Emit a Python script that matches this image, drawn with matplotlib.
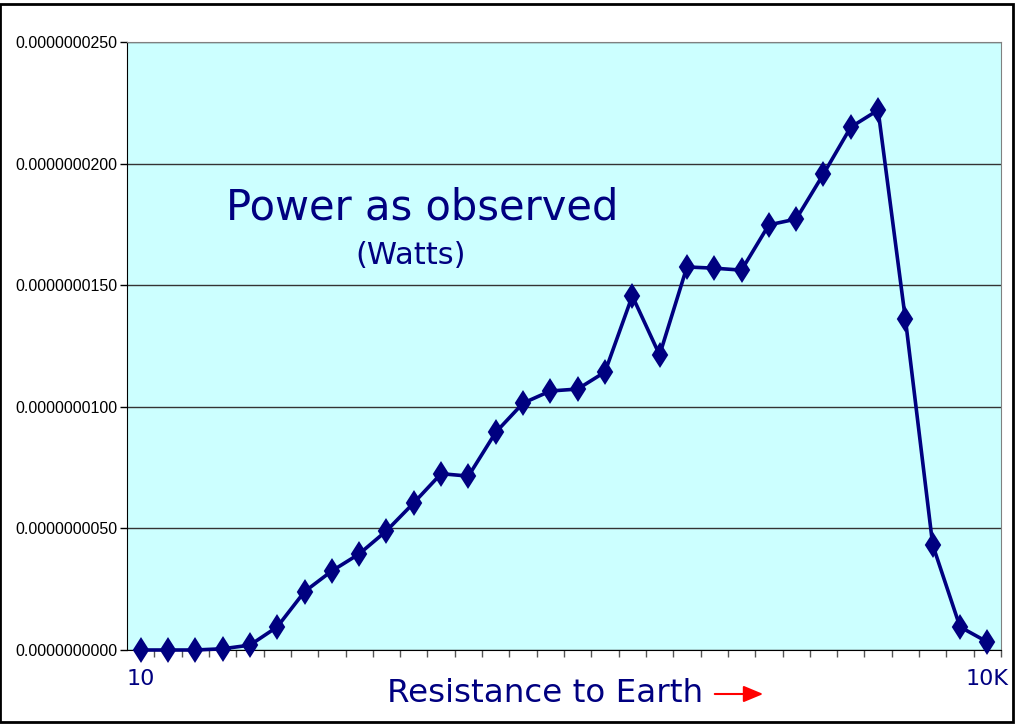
import matplotlib
matplotlib.use("Agg")
import matplotlib.pyplot as plt
from matplotlib.patches import Rectangle, FancyArrowPatch
from matplotlib.ticker import FixedLocator, FuncFormatter

# Data (Watts), 32 resistance steps from 10 to 10K
power_nW = [0.0, 0.0, 0.0, 0.05, 0.2, 0.95, 2.4, 3.25, 3.95, 4.9, 6.05, 7.25,
            7.15, 8.95, 10.15, 10.65, 10.73, 11.43, 14.56, 12.13, 15.75, 15.7,
            15.62, 17.48, 17.72, 19.57, 21.5, 22.2, 13.6, 4.32, 0.95, 0.33]
power = [v * 1e-9 for v in power_nW]
x_labels = ["10"] + [""] * 30 + ["10K"]
y_ticks = [0, 5e-9, 10e-9, 15e-9, 20e-9, 25e-9]

navy = "#000080"

fig = plt.figure(figsize=(10.24, 7.27), dpi=100)
ax = fig.add_axes([127 / 1024, 1 - 650 / 727, (1001 - 127) / 1024, (650 - 42) / 727])
ax.set_facecolor("#CCFFFF")

n = len(power)
xs = list(range(n))
ax.plot(xs, power, color=navy, lw=2.6, marker="d", markersize=11.5,
        markeredgewidth=1.5, markerfacecolor=navy, markeredgecolor=navy,
        zorder=3, clip_on=False)

ax.set_xlim(-0.5, n - 0.5)
ax.set_ylim(0, 25e-9)

ax.set_yticks(y_ticks)
ax.yaxis.set_major_formatter(FuncFormatter(lambda v, p: f"{v:.10f}"))
for lbl in ax.get_yticklabels():
    lbl.set_fontfamily("Liberation Sans")
    lbl.set_fontsize(11.5)
ax.tick_params(axis="y", length=5, width=1, color="black", pad=2)
ax.grid(axis="y", color="#333333", lw=1)
ax.set_axisbelow(True)

ax.set_xticks(xs)
ax.set_xticklabels(x_labels, fontsize=16, color=navy, family="DejaVu Sans")
ax.tick_params(axis="x", which="major", length=0, pad=14)
ax.xaxis.set_minor_locator(FixedLocator([i + 0.5 for i in range(n)]))
ax.tick_params(axis="x", which="minor", length=5, width=1, color="#555555")

ax.spines["left"].set_color("black")
ax.spines["bottom"].set_color("black")
ax.spines["top"].set_color("#808080")
ax.spines["right"].set_color("#808080")

fig.text(422 / 1024, 1 - 207 / 727, "Power as observed", fontsize=30, color=navy,
         ha="center", va="center", family="DejaVu Sans")
fig.text(411 / 1024, 1 - 256 / 727, "(Watts)", fontsize=22, color=navy,
         ha="center", va="center", family="DejaVu Sans")
fig.text(545 / 1024, 1 - 694 / 727, "Resistance to Earth", fontsize=23.4, color=navy,
         ha="center", va="center", family="DejaVu Sans")
arrow = FancyArrowPatch((712 / 1024, 1 - 694 / 727), (766 / 1024, 1 - 694 / 727),
                        transform=fig.transFigure,
                        arrowstyle="-|>,head_length=12,head_width=5",
                        color="red", lw=1.5, mutation_scale=1)
fig.patches.append(arrow)

fig.patches.append(Rectangle((0, 1 - 722 / 727), 1013 / 1024, (722 - 4) / 727,
                             transform=fig.transFigure, fill=False,
                             edgecolor="black", lw=2))

fig.savefig("out.png", dpi=100)
